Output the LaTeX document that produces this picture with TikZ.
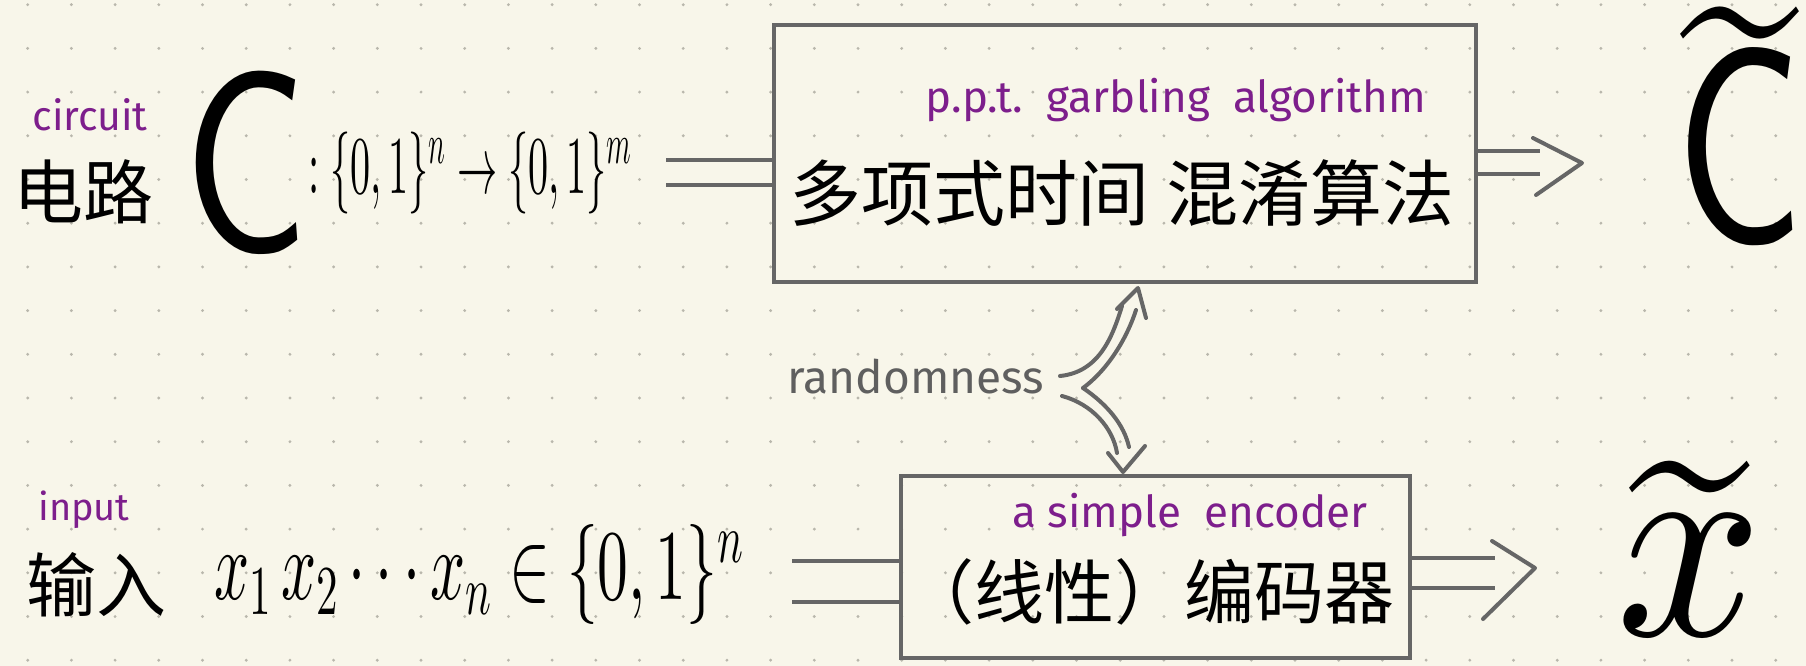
\documentclass[tikz,border=0pt]{standalone}
\usepackage{amsmath}
\usepackage{fontspec}
\DeclareFontShape{OML}{cmm}{m}{it}{<->cmmi10}{}
\DeclareFontShape{OMS}{cmsy}{m}{n}{<->cmsy10}{}
\DeclareFontShape{OMX}{cmex}{m}{n}{<->cmex10}{}
\DeclareFontShape{OT1}{cmr}{m}{n}{<->cmr10}{}
\newfontfamily\cjk{Noto Sans CJK SC}
\newfontfamily\hand{Fira Sans}
\usetikzlibrary{calc}
\definecolor{paper}{RGB}{248,246,234}
\definecolor{dotc}{RGB}{185,183,172}
\definecolor{pen}{RGB}{102,102,102}
\definecolor{purp}{RGB}{125,30,140}
\definecolor{inkg}{RGB}{95,95,95}
\begin{document}
\begin{tikzpicture}[x=1pt,y=-1pt,
  box/.style={draw=pen,line width=3.5pt,inner sep=0pt},
  cn/.style={font=\fontsize{70}{80}\selectfont\cjk,inner sep=0pt},
  lab/.style={text=purp,font=\fontsize{44}{50}\selectfont\hand,inner sep=0pt},
  big/.style={inner sep=0pt,anchor=base},
  dbl/.style={draw=pen,line width=4pt,double=paper,double distance=#1},
  chev/.style={draw=pen,line width=4pt,line cap=round,line join=round},
  ]
\fill[paper] (0,0) rectangle (1806,666);
\useasboundingbox (0,0) rectangle (1806,666);
\foreach \i in {0,...,41} \foreach \j in {0,...,15} \fill[dotc] (27.7+43.7*\i,4.7+43.7*\j) circle (1.6);

% boxes
\node[box,minimum width=702pt,minimum height=257pt] (b1) at (1125,153.5) {};
\node[box,minimum width=509pt,minimum height=182pt] (b2) at (1155.5,567) {};

% top row
\node[lab,font=\fontsize{41}{45}\selectfont\hand] (lc) at (90,115) {circuit};
\node[cn] (tc) at (83,192) {电路};
\node[big] (C) at (246,252) {\fontsize{261}{261}\selectfont\sffamily\scalebox{0.8}[1]{C}};
\node[inner sep=0pt,anchor=base west] (fn) at (308,193) {\fontsize{82}{82}\selectfont\scalebox{0.49}[1]{$:\{0,1\}^n\to\{0,1\}^m$}};
\node[lab] (lp) at (1176,100) {p.p.t.\ \ garbling\ \ algorithm};
\node[cn,font=\fontsize{72}{80}\selectfont\cjk] (t1) at (1122,193) {多项式时间 混淆算法};
\node[big] (Ct) at (1740,243) {\fontsize{282}{282}\selectfont\sffamily\scalebox{0.76}[1]{\ooalign{C\cr\hidewidth\raisebox{0.53em}{\textasciitilde}\hidewidth\cr}}};

% bottom row
\node[lab,font=\fontsize{38}{40}\selectfont\hand] (lin) at (84,510) {input};
\node[cn] (ti) at (96,585) {输入};
\node[inner sep=0pt,anchor=base west] (xs) at (214,599) {\fontsize{100}{100}\selectfont\scalebox{0.615}[1]{$x_1\,x_2\cdots x_n\in\{0,1\}^n$}};
\node[lab] (le) at (1190,515) {a simple\ \ encoder};
\node[cn] (t2) at (1149,592) {（线性）编码器};
\node[big] (xt) at (1690,635) {\fontsize{278}{278}\selectfont\scalebox{0.92}[1]{\ooalign{$x$\cr\hidewidth\raisebox{0.32em}{\scalebox{0.85}[1]{\textasciitilde}}\hidewidth\cr}}};

% randomness
\node[text=inkg,font=\fontsize{46}{50}\selectfont\hand,inner sep=0pt] (rnd) at (916,377) {randomness};

% input connectors
\coordinate (a1) at (666,172.5);
\draw[dbl=21pt] (a1) -- (a1 -| b1.west);
\coordinate (a2) at (792,581.5);
\draw[dbl=37pt] (a2) -- (a2 -| b2.west);

% output connectors
\coordinate (o1) at (1540,162);
\coordinate (p1) at (1582,163);
\draw[dbl=19pt] (o1 -| b1.east) -- (o1);
\draw[chev] ($(p1)+(-49,-25)$) -- (p1) -- ($(p1)+(-46,32)$);
\coordinate (o2) at (1495,573);
\coordinate (p2) at (1535,568);
\draw[dbl=26pt] (o2 -| b2.east) -- (o2);
\draw[chev] ($(p2)+(-43,-27)$) -- (p2) -- ($(p2)+(-52,51)$);

% randomness arrows
\coordinate (ra) at (1083,388);
\coordinate (ru) at (1060,376);
\coordinate (rl) at (1062,396);
\coordinate (pu) at (1138,288);
\coordinate (pl) at (1123,472);
\draw[chev] (ru) .. controls (1100,372) and (1113,335) .. (1122,306);
\draw[chev] (ra) .. controls (1110,368) and (1128,335) .. (1136,310);
\draw[chev] ($(pu)+(-21,21)$) -- (pu) -- ($(pu)+(8,30)$);
\draw[chev] (rl) .. controls (1092,404) and (1113,428) .. (1117,453);
\draw[chev] (ra) .. controls (1108,405) and (1124,425) .. (1129,447);
\draw[chev] ($(pl)+(-15,-19)$) -- (pl) -- ($(pl)+(22,-26)$);
\end{tikzpicture}
\end{document}
